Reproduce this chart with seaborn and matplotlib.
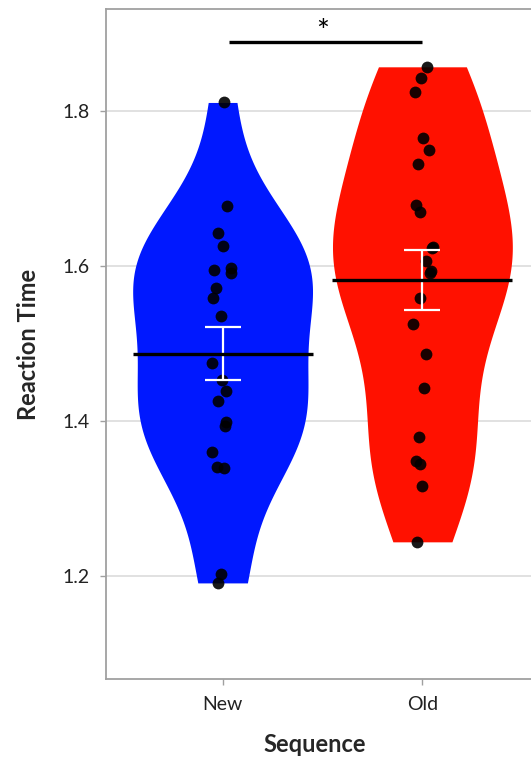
import numpy as np
import pandas as pd
import matplotlib
matplotlib.use("Agg")
import matplotlib.pyplot as plt
import seaborn as sns

# Reaction times per sequence type
categories = ["New", "Old"]
rt_new = [1.811, 1.677, 1.642, 1.626, 1.598, 1.591, 1.595, 1.572, 1.559, 1.536,
          1.475, 1.453, 1.439, 1.426, 1.398, 1.393, 1.360, 1.339, 1.340, 1.202, 1.191]
rt_old = [1.857, 1.843, 1.825, 1.765, 1.750, 1.732, 1.679, 1.669, 1.623, 1.625,
          1.607, 1.594, 1.591, 1.559, 1.525, 1.487, 1.442, 1.379, 1.348, 1.345,
          1.316, 1.244]
yticks = [1.2, 1.4, 1.6, 1.8]
palette = {"New": "#0018ff", "Old": "#ff1100"}

df = pd.DataFrame({
    "Sequence": ["New"] * len(rt_new) + ["Old"] * len(rt_old),
    "Reaction Time": rt_new + rt_old,
})

sns.set_style("white")
plt.rcParams["font.family"] = ["Lato", "DejaVu Sans"]

fig = plt.figure(figsize=(5.31, 7.61), dpi=100)
W, H = 531, 761
ax = fig.add_axes([106 / W, (H - 679) / H, (539 - 106) / W, (679 - 9) / H])

sns.violinplot(data=df, x="Sequence", y="Reaction Time", hue="Sequence",
               order=categories, palette=palette, cut=0, inner=None,
               density_norm="width", width=0.9, linewidth=0, saturation=1,
               bw_adjust=0.9, gridsize=300, legend=False, ax=ax, zorder=2)

np.random.seed(3)
sns.stripplot(data=df, x="Sequence", y="Reaction Time", order=categories,
              color="black", jitter=0.055, size=8.5, alpha=0.9, linewidth=0,
              ax=ax, zorder=3)

# Mean line and standard-error bars
for i, vals in enumerate([rt_new, rt_old]):
    v = np.asarray(vals)
    m = v.mean()
    se = v.std(ddof=1) / np.sqrt(len(v))
    ax.hlines(m, i - 0.45, i + 0.45, color="black", lw=2.4, zorder=5)
    ax.errorbar(i, m, yerr=se, color="white", lw=1.6, capsize=13,
                capthick=1.6, zorder=4)

# Significance bar
ax.plot([0.03, 1.0], [1.889, 1.889], color="black", lw=2.4, zorder=5,
        solid_capstyle="butt", clip_on=False)
ax.text(0.5, 1.902, "*", ha="center", va="center", fontsize=22, color="black")

ax.set_xlim(-0.5835, 1.5835)
ax.set_ylim(1.067, 1.9316)
ax.set_yticks(yticks)
ax.set_yticklabels([f"{t:.1f}" for t in yticks])
ax.yaxis.grid(True, color="#dcdcdc", lw=1.2, zorder=0)
ax.set_axisbelow(True)

for side in ["left", "bottom", "top", "right"]:
    ax.spines[side].set_color("#a0a0a0")
    ax.spines[side].set_linewidth(1.3)

ax.tick_params(axis="both", which="major", length=4, width=1, color="#a0a0a0",
               labelsize=14, labelcolor="#222222", pad=8, left=True, bottom=True)
ax.set_xlabel("Sequence", fontsize=17, fontweight="bold")
ax.set_ylabel("Reaction Time", fontsize=17, fontweight="bold", labelpad=16)
ax.xaxis.set_label_coords((315 - 106) / (539 - 106), -(733 - 679) / (679 - 9))

fig.savefig("out.png", dpi=100)
